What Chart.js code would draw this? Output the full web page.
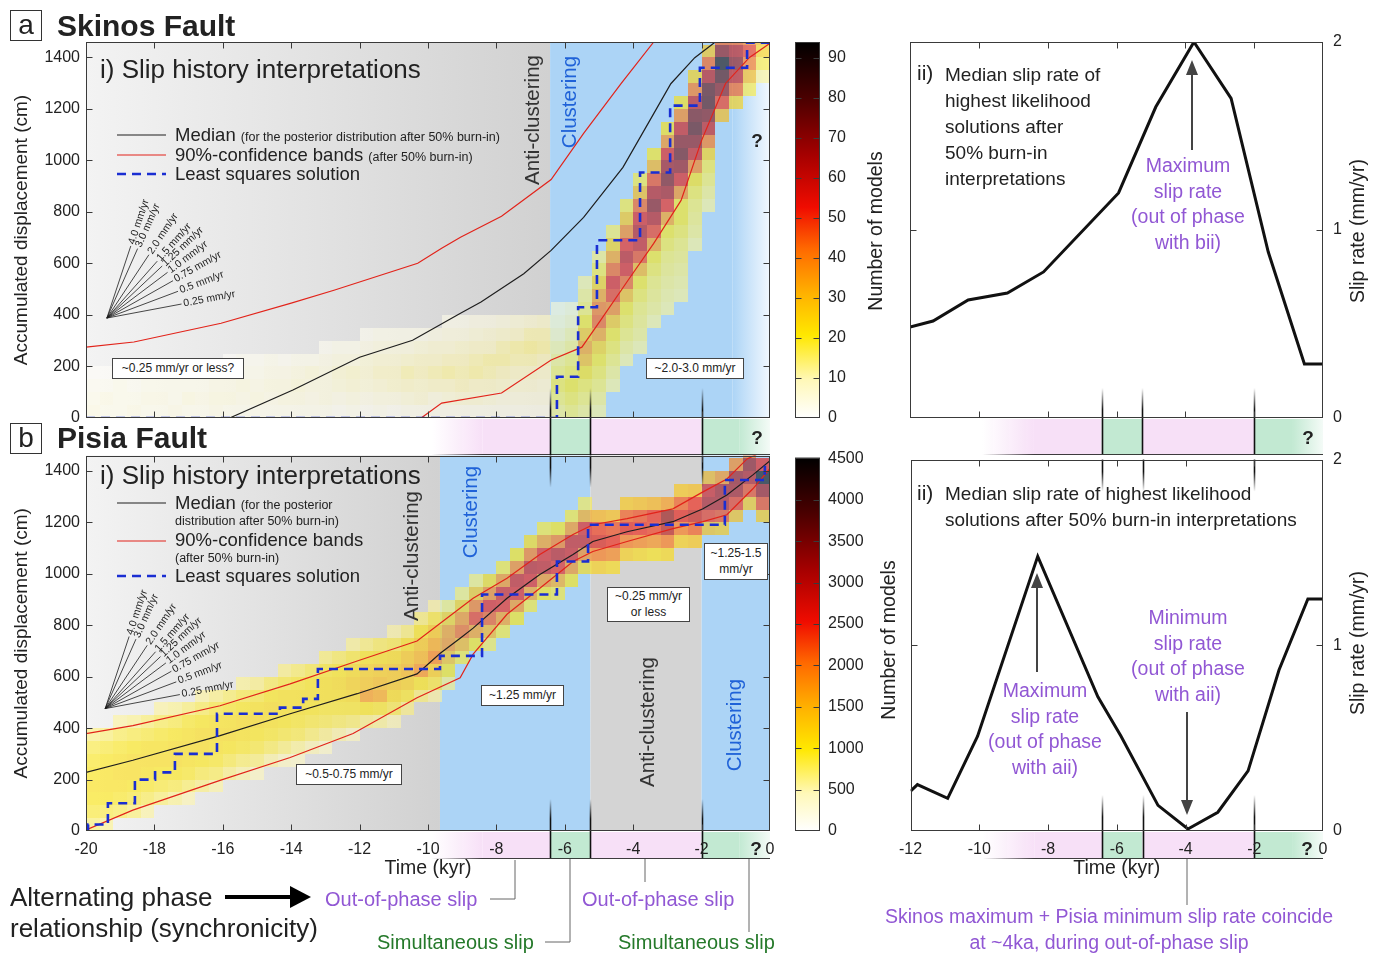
<!DOCTYPE html>
<html>
<head>
<meta charset="utf-8">
<title>Skinos and Pisia fault slip histories</title>
<script src="https://cdn.jsdelivr.net/npm/chart.js@4.4.1/dist/chart.umd.min.js"></script>
<style>
  body { margin: 0; background: #fff; }
  #fig { position: relative; width: 1381px; height: 954px; overflow: hidden; background: #fff;
         font-family: "Liberation Sans", Arial, Helvetica, sans-serif; color: #222; }
  #fig canvas { position: absolute; }
  .t { position: absolute; white-space: nowrap; line-height: 1; }
  .c { transform: translate(-50%, -50%); text-align: center; }
  .l { transform: translateY(-50%); }
  .r90 { transform: translate(-50%, -50%) rotate(-90deg); }
  .abox { position: absolute; width: 32px; height: 31px; box-sizing: border-box; border: 1px solid #333;
          font-size: 28px; line-height: 27px; text-align: center; }
  .box { position: absolute; box-sizing: border-box; background: #fff; border: 1px solid #444; font-size: 12px;
         line-height: 1.3; display: flex; align-items: center; justify-content: center; text-align: center; }
  .purple { color: #9157d4; }
  .green { color: #25792a; }
  .blue { color: #1f62d8; }
  small { font-size: 12.5px; }
</style>
</head>
<body>
<div id="fig">
  <canvas id="histA" width="790" height="460" style="left:0;top:0"></canvas>
  <canvas id="barA" width="100" height="460" style="left:780px;top:0"></canvas>
  <canvas id="rateA" width="490" height="460" style="left:890px;top:0"></canvas>
  <canvas id="histB" width="790" height="440" style="left:0;top:440px"></canvas>
  <canvas id="barB" width="100" height="440" style="left:780px;top:440px"></canvas>
  <canvas id="rateB" width="490" height="440" style="left:890px;top:440px"></canvas>

  <svg width="1381" height="954" style="position:absolute;left:0;top:0">
    <line x1="117" y1="135" x2="166" y2="135" stroke="#1e1e1e" stroke-width="1.2"/>
    <line x1="117" y1="155" x2="166" y2="155" stroke="#e2231a" stroke-width="1.2"/>
    <line x1="117" y1="174" x2="166" y2="174" stroke="#1a2ed2" stroke-width="2.6" stroke-dasharray="9 6"/>
    <line x1="117" y1="503" x2="166" y2="503" stroke="#1e1e1e" stroke-width="1.2"/>
    <line x1="117" y1="541" x2="166" y2="541" stroke="#e2231a" stroke-width="1.2"/>
    <line x1="117" y1="576" x2="166" y2="576" stroke="#1a2ed2" stroke-width="2.6" stroke-dasharray="9 6"/>
    <g stroke="#444" stroke-width="2" fill="#444">
      <line x1="1192" y1="150" x2="1192" y2="72"/>
      <polygon points="1186,75 1192,60 1198,75" stroke="none"/>
      <line x1="1037" y1="672" x2="1037" y2="585"/>
      <polygon points="1031,588 1037,573 1043,588" stroke="none"/>
      <line x1="1187" y1="712" x2="1187" y2="800"/>
      <polygon points="1181,800 1187,815 1193,800" stroke="none"/>
    </g>
    <g stroke="#666" stroke-width="1" fill="none">
      <polyline points="490,899 515,899 515,860"/>
      <polyline points="545,942 570,942 570,859"/>
      <polyline points="645,859 645,882"/>
      <polyline points="749,859 749,932"/>
      <polyline points="1187,859 1187,905"/>
    </g>
    <line x1="225" y1="897" x2="294" y2="897" stroke="#000" stroke-width="4"/>
    <polygon points="290,886 311,897 290,908" fill="#000"/>
  </svg>

  <div class="abox" style="left:10px;top:10px">a</div>
  <div class="t l" style="left:57px;top:26px;font-size:30px;font-weight:bold">Skinos Fault</div>
  <div class="t l" style="left:100px;top:69px;font-size:26px">i) Slip history interpretations</div>
  <div class="t l" style="left:175px;top:135px;font-size:18.5px">Median <small>(for the posterior distribution after 50% burn-in)</small></div>
  <div class="t l" style="left:175px;top:155px;font-size:18.5px">90%-confidence bands <small>(after 50% burn-in)</small></div>
  <div class="t l" style="left:175px;top:174px;font-size:18.5px">Least squares solution</div>
  <div class="box" style="left:112px;top:358px;width:132px;height:21px">~0.25 mm/yr or less?</div>
  <div class="box" style="left:646px;top:358px;width:98px;height:21px">~2.0-3.0 mm/yr</div>
  <div class="t c" style="left:757px;top:140px;font-size:19px;font-weight:bold">?</div>
  <div class="t r90" style="left:532px;top:120px;font-size:20.5px;color:#333">Anti-clustering</div>
  <div class="t r90 blue" style="left:569px;top:102px;font-size:20.5px">Clustering</div>
  <div class="t c" style="left:757px;top:437px;font-size:19px;font-weight:bold">?</div>
  <div class="t c" style="left:1308px;top:437px;font-size:19px;font-weight:bold">?</div>

  <div class="t r90" style="left:876px;top:231px;font-size:19.5px">Number of models</div>
  <div class="t r90" style="left:1358px;top:231px;font-size:19.5px">Slip rate (mm/yr)</div>
  <div class="t l" style="left:917px;top:72px;font-size:21px">ii)</div>
  <div class="t" style="left:945px;top:62px;font-size:19px;line-height:26px">Median slip rate of<br>highest likelihood<br>solutions after<br>50% burn-in<br>interpretations</div>
  <div class="t c purple" style="left:1188px;top:204px;font-size:19.5px;line-height:25.5px">Maximum<br>slip rate<br>(out of phase<br>with bii)</div>

  <div class="abox" style="left:10px;top:423px">b</div>
  <div class="t l" style="left:57px;top:438px;font-size:30px;font-weight:bold">Pisia Fault</div>
  <div class="t l" style="left:100px;top:475px;font-size:26px">i) Slip history interpretations</div>
  <div class="t l" style="left:175px;top:503px;font-size:18.5px">Median <small>(for the posterior</small></div>
  <div class="t l" style="left:175px;top:520px"><small>distribution after 50% burn-in)</small></div>
  <div class="t l" style="left:175px;top:540px;font-size:18.5px">90%-confidence bands</div>
  <div class="t l" style="left:175px;top:557px"><small>(after 50% burn-in)</small></div>
  <div class="t l" style="left:175px;top:576px;font-size:18.5px">Least squares solution</div>
  <div class="t r90" style="left:411px;top:556px;font-size:20.5px;color:#333">Anti-clustering</div>
  <div class="t r90 blue" style="left:470px;top:512px;font-size:20.5px">Clustering</div>
  <div class="t r90" style="left:647px;top:722px;font-size:20.5px;color:#333">Anti-clustering</div>
  <div class="t r90 blue" style="left:734px;top:725px;font-size:20.5px">Clustering</div>
  <div class="box" style="left:704px;top:543px;width:64px;height:37px">~1.25-1.5<br>mm/yr</div>
  <div class="box" style="left:607px;top:587px;width:83px;height:35px">~0.25 mm/yr<br>or less</div>
  <div class="box" style="left:481px;top:685px;width:83px;height:21px">~1.25 mm/yr</div>
  <div class="box" style="left:296px;top:764px;width:106px;height:21px">~0.5-0.75 mm/yr</div>
  <div class="t c" style="left:756px;top:848px;font-size:19px;font-weight:bold">?</div>
  <div class="t c" style="left:1307px;top:848px;font-size:19px;font-weight:bold">?</div>

  <div class="t r90" style="left:889px;top:640px;font-size:19.5px">Number of models</div>
  <div class="t r90" style="left:1358px;top:643px;font-size:19.5px">Slip rate (mm/yr)</div>
  <div class="t l" style="left:917px;top:492px;font-size:21px">ii)</div>
  <div class="t" style="left:945px;top:481px;font-size:19px;line-height:26px">Median slip rate of highest likelihood<br>solutions after 50% burn-in interpretations</div>
  <div class="t c purple" style="left:1045px;top:729px;font-size:19.5px;line-height:25.5px">Maximum<br>slip rate<br>(out of phase<br>with aii)</div>
  <div class="t c purple" style="left:1188px;top:656px;font-size:19.5px;line-height:25.5px">Minimum<br>slip rate<br>(out of phase<br>with aii)</div>

  <div class="t l" style="left:10px;top:897px;font-size:26px">Alternating phase</div>
  <div class="t l" style="left:10px;top:928px;font-size:26px">relationship (synchronicity)</div>
  <div class="t l purple" style="left:325px;top:899px;font-size:20px">Out-of-phase slip</div>
  <div class="t l green" style="left:377px;top:942px;font-size:20px">Simultaneous slip</div>
  <div class="t l purple" style="left:582px;top:899px;font-size:20px">Out-of-phase slip</div>
  <div class="t l green" style="left:618px;top:942px;font-size:20px">Simultaneous slip</div>
  <div class="t c purple" style="left:1109px;top:929px;font-size:19.5px;line-height:26px">Skinos maximum + Pisia minimum slip rate coincide<br>at ~4ka, during out-of-phase slip</div>
</div>

<script>
// ---- Skinos (a-i) slip history, time in kyr, displacement in cm ----
const aMedianT = [-20, -15.8, -13.95, -12.0, -10.45, -9.05, -8.45, -7.2, -6.4, -5.45, -4.3, -3.4, -2.9, -2.2, -1.6];
const aMedianV = [0, 0, 109, 236, 302, 407, 450, 560, 651, 779, 973, 1182, 1298, 1399, 1460];
const aUpperT = [-20, -18.6, -16.05, -14.0, -12.75, -10.3, -9.6, -9.05, -7.85, -6.4, -5.45, -4.35, -3.4];
const aUpperV = [275, 295, 368, 446, 496, 601, 659, 702, 783, 926, 1105, 1299, 1460];
const aLowerT = [-10.2, -9.6, -7.85, -6.4, -5.5, -4.95, -4.15, -3.4, -2.6, -2.0, -1.3, -0.6, 0];
const aLowerV = [0, 58, 97, 225, 275, 380, 535, 678, 845, 1078, 1299, 1400, 1455];
const aLsqT = [-20, -6.23, -5.61, -5.06, -3.8, -2.92, -2.05, -0.67, 0];
const aLsqV = [0, 160, 430, 690, 953, 1213, 1360, 1457, 1457];

// ---- Pisia (b-i) slip history ----
const bMedianT = [-20, -18.63, -16.08, -14.03, -12.07, -10.32, -9.65, -9.06, -8.68, -7.69, -6.73, -5.76, -5.18, -4.18, -2.84, -1.96, -1.26, -0.5, 0];
const bMedianV = [228, 275, 371, 456, 534, 611, 690, 750, 789, 905, 998, 1075, 1126, 1164, 1203, 1253, 1307, 1385, 1440];
const bUpperT = [-20, -18.63, -16.08, -14.03, -12.07, -10.32, -9.44, -8.68, -7.69, -6.73, -5.76, -5.18, -4.18, -2.84, -1.96, -1.26, -0.67, -0.3];
const bUpperV = [379, 410, 487, 572, 661, 739, 828, 905, 983, 1075, 1153, 1191, 1215, 1253, 1319, 1369, 1447, 1470];
const bLowerT = [-20, -18.63, -16.08, -14.03, -12.19, -10.32, -9.06, -8.68, -7.69, -6.73, -5.76, -5.18, -4.18, -2.84, -1.96, -1.26, -0.5, 0];
const bLowerV = [4, 81, 197, 286, 379, 518, 596, 688, 843, 944, 1048, 1087, 1126, 1176, 1203, 1230, 1331, 1410];
const bLsqT = [-20, -19.94, -19.36, -18.57, -17.98, -17.4, -16.17, -14.33, -13.65, -13.22, -9.65, -8.42, -6.23, -5.32, -1.32, -0.15, 0];
const bLsqV = [0, 25, 108, 200, 228, 300, 456, 480, 514, 630, 681, 920, 1048, 1191, 1365, 1423, 1423];

// ---- median slip rates (a-ii, b-ii), mm/yr ----
const aRateT = [-12, -11.33, -10.31, -9.17, -8.12, -5.94, -4.86, -3.75, -2.67, -1.59, -0.54, 0];
const aRateV = [0.484, 0.516, 0.628, 0.665, 0.777, 1.197, 1.654, 2.0, 1.70, 0.883, 0.287, 0.287];
const bRateT = [-12, -11.8, -10.92, -10.05, -8.3, -6.55, -5.88, -4.8, -3.93, -3.06, -2.18, -1.28, -0.44, 0];
const bRateV = [0.215, 0.25, 0.176, 0.511, 1.479, 0.723, 0.511, 0.138, 0.011, 0.101, 0.324, 0.867, 1.25, 1.25];

// ---- tick values ----
const DISP_TICKS = [0, 200, 400, 600, 800, 1000, 1200, 1400];
const RATE_TICKS = [0, 1, 2];
const A_BAR_TICKS = [0, 10, 20, 30, 40, 50, 60, 70, 80, 90];
const B_BAR_TICKS = [0, 500, 1000, 1500, 2000, 2500, 3000, 3500, 4000, 4500];

// ---- 2D histograms: column left edge (kyr), lowest bin (cm), counts per 50 cm bin ----
const HEAT_DT = 0.4;
const HEAT_DV = 50;
const aCellT0 = [-20, -19.6, -19.2, -18.8, -18.4, -18, -17.6, -17.2, -16.8, -16.4, -16, -15.6, -15.2, -14.8, -14.4, -14, -13.6,
  -13.2, -12.8, -12.4, -12, -11.6, -11.2, -10.8, -10.4, -10, -9.6, -9.2, -8.8, -8.4, -8, -7.6, -7.2, -6.8, -6.4, -6, -5.6,
  -5.2, -4.8, -4.4, -4, -3.6, -3.2, -2.8, -2.4, -2, -1.6, -1.2, -0.8, -0.4];
const aCellV0 = [0, 0, 0, 0, 0, 0, 0, 0, 0, 0, 0, 0, 0, 0, 0, 0, 0, 0, 0, 0, 0, 0, 0, 0, 0, 0, 0, 0, 0, 0, 0, 0, 0, 0, 0, 0,
  0, 0, 100, 200, 250, 350, 400, 450, 650, 800, 1150, 1200, 1250, 1300];
const aCellN = [
  [4, 3, 2, 1], [3, 4, 2, 1], [3, 3, 3, 2], [4, 3, 2, 1], [3, 4, 3, 1], [3, 4, 3, 2], [4, 3, 3, 1], [3, 5, 3, 2],
  [3, 4, 3, 2], [4, 5, 4, 3], [3, 5, 4, 3, 1], [3, 4, 5, 3, 2], [3, 5, 4, 3, 2], [3, 4, 5, 4, 3], [3, 5, 5, 4, 2],
  [3, 5, 6, 5, 3], [3, 4, 5, 6, 3], [3, 5, 5, 5, 4, 2], [2, 4, 6, 7, 5, 3], [3, 5, 7, 8, 5, 3], [2, 4, 6, 7, 6, 4, 2],
  [3, 5, 7, 9, 7, 5, 3], [2, 5, 8, 9, 7, 5, 3], [3, 6, 9, 11, 8, 5, 3], [3, 7, 8, 10, 9, 6, 3],
  [3, 5, 9, 11, 9, 7, 4], [3, 6, 9, 12, 10, 7, 5, 3], [3, 7, 10, 11, 10, 8, 5, 3], [3, 7, 9, 12, 11, 9, 6, 4],
  [3, 6, 9, 11, 12, 9, 7, 4], [3, 5, 8, 10, 12, 11, 8, 5], [3, 5, 7, 9, 11, 12, 9, 6], [3, 5, 7, 9, 11, 13, 11, 7],
  [3, 5, 6, 8, 10, 12, 11, 8], [14, 16, 18, 16, 14, 12, 10, 8, 6], [16, 18, 20, 18, 16, 14, 12, 10, 8],
  [14, 16, 18, 22, 30, 35, 28, 20, 16, 14, 12],
  [12, 14, 16, 18, 20, 25, 35, 45, 42, 35, 25, 18, 14],
  [12, 14, 16, 18, 20, 28, 40, 50, 55, 45, 35, 25, 16],
  [12, 14, 16, 18, 20, 30, 45, 55, 60, 52, 40, 28, 18],
  [12, 14, 15, 16, 18, 20, 32, 48, 58, 62, 55, 45, 30, 18],
  [12, 14, 15, 16, 18, 20, 35, 50, 62, 70, 62, 48, 32, 20],
  [12, 13, 14, 15, 16, 18, 20, 35, 52, 65, 72, 66, 55, 38, 22],
  [12, 13, 14, 15, 16, 18, 20, 20, 38, 55, 68, 75, 70, 58, 40, 22],
  [12, 14, 15, 16, 18, 22, 40, 58, 70, 78, 74, 60, 42, 25],
  [12, 14, 16, 18, 25, 42, 60, 72, 80, 78, 62, 45, 28],
  [30, 50, 70, 80, 92, 70, 45, 25], [25, 45, 60, 70, 62, 45, 25],
  [18, 30, 42, 50, 40], [12, 18, 25, 30]];

const bCellT0 = aCellT0;
const bCellV0 = [0, 0, 50, 50, 50, 100, 100, 100, 150, 150, 200, 200, 200, 250, 250, 250, 300, 300, 350, 350, 400, 400, 400,
  450, 500, 500, 550, 650, 700, 700, 750, 800, 850, 900, 900, 950, 1000, 1000, 1000, 1050, 1050, 1050, 1050, 1100, 1100,
  1150, 1150, 1200, 1250, 1200];
const bCellN = [
  [700, 900, 1000, 1050, 1000, 950, 850, 650], [600, 850, 1000, 1050, 1050, 1000, 900, 700],
  [800, 950, 1050, 1100, 1050, 950, 800, 550], [700, 900, 1000, 1100, 1100, 1000, 850, 600],
  [550, 800, 950, 1050, 1100, 1050, 900, 700], [700, 900, 1000, 1100, 1050, 950, 800, 550],
  [600, 850, 1000, 1100, 1100, 1000, 850, 600], [500, 750, 950, 1050, 1100, 1050, 950, 700],
  [650, 850, 1000, 1100, 1100, 1000, 800, 550], [550, 800, 950, 1050, 1100, 1050, 900, 650],
  [650, 850, 1000, 1100, 1050, 950, 750], [550, 750, 950, 1050, 1100, 1000, 850, 600],
  [450, 700, 900, 1000, 1100, 1050, 900, 650], [550, 800, 950, 1050, 1100, 1000, 800],
  [450, 700, 900, 1000, 1050, 1050, 900, 650], [400, 600, 850, 950, 1050, 1050, 950, 750],
  [500, 750, 900, 1000, 1050, 1000, 850], [400, 650, 850, 950, 1050, 1050, 950, 700],
  [550, 800, 950, 1050, 1100, 1000, 800], [450, 750, 950, 1100, 1200, 1100, 900, 600],
  [650, 1000, 1700, 1300, 1200, 1000, 700], [600, 950, 1600, 1400, 1250, 1050, 800],
  [500, 850, 1100, 1300, 1300, 1100, 850, 550], [650, 950, 1200, 1450, 1300, 1050, 700],
  [700, 1000, 1800, 1500, 1300, 1000, 700], [550, 900, 1250, 1900, 1600, 1300, 900, 550],
  [650, 1000, 1400, 1800, 1700, 1200, 700], [900, 1500, 2100, 1800, 1200, 700], [1000, 1700, 2400, 2000, 1300, 700],
  [800, 1500, 2200, 2600, 1900, 1100], [900, 1700, 2500, 2700, 1800, 900], [1000, 1800, 2600, 2800, 1900, 1000],
  [900, 1700, 2600, 2900, 2000, 1100], [1000, 1800, 2800, 2600, 1700, 900], [900, 1600, 2500, 2900, 2000, 1000],
  [1000, 1800, 2700, 2800, 1800, 900], [1100, 1900, 2800, 2600, 1600, 800], [1200, 2000, 2700, 2400, 1500],
  [1100, 1900, 2500, 2300, 1400], [1200, 2000, 2600, 2200, 1300], [1100, 1900, 2500, 2300, 1400],
  [1000, 1800, 2400, 2500, 1500], [1100, 2000, 3000, 3300, 1700], [1200, 2000, 2600, 2200, 1300],
  [1300, 2200, 2900, 2500, 1400], [1400, 2400, 3000, 2700, 1500], [1300, 2300, 3000, 3100, 1800],
  [1400, 2400, 3100, 3200, 1900], [1300, 2300, 3000, 3300, 2000], [1300, 2300, 3200, 4500, 2600]];

// reference rate fan (mm/yr) and its origin in each panel
const FAN_RATES = [4.0, 3.0, 2.0, 1.5, 1.25, 1.0, 0.75, 0.5, 0.25];
const FAN_LABELS = ['4.0 mm/yr', '3.0 mm/yr', '2.0 mm/yr', '1.5 mm/yr', '1.25 mm/yr', '1.0 mm/yr', '0.75 mm/yr', '0.5 mm/yr', '0.25 mm/yr'];
const aFanOrigin = [-19.39, 388];
const bFanOrigin = [-19.44, 476];

// phase windows (kyr): edges of simultaneous-slip windows
const PHASE_EDGES = [-6.43, -5.25, -2.0];
const PINK_IN = [-9.9, -8.4];
const GREEN_OUT = -0.9;

// shaded background zones in i) panels
const aZones = [[-20, -6.43, 'grey'], [-6.43, -1.1, 'blue'], [-1.1, 0, 'blueFade']];
const bZones = [[-20, -9.65, 'grey'], [-9.65, -5.25, 'blue'], [-5.25, -2.0, 'flatGrey'], [-2.0, 0, 'blue']];

const A_MAX = 94;
const B_MAX = 4510;

// ---- styles ----
const FONT = '"Liberation Sans", Arial, Helvetica, sans-serif';
const INK = '#222';
const FRAME = '#3a3a3a';
const TICK = 6;
const BLUE = '#acd4f6';
const PINK = '#f7e0f7';
const GREEN = '#c2e9d2';
const HEAT_ALPHA = 0.58;
const ZONE_FILL = {
  grey: ['#f3f3f3', '#d1d1d1'],
  blue: [BLUE, BLUE],
  blueFade: [BLUE, '#f2f8fe'],
  flatGrey: ['#d4d4d4', '#d4d4d4'],
};
const HEAT_STOPS = [
  [0, [255, 255, 255]], [0.1, [255, 248, 185]], [0.22, [255, 232, 0]], [0.33, [255, 178, 0]],
  [0.45, [255, 105, 0]], [0.56, [240, 12, 0]], [0.7, [165, 0, 0]], [0.85, [75, 0, 0]], [1, [0, 0, 0]],
];
const NO_GRID = { display: false, drawTicks: false };
const NO_BORDER = { display: false };

Chart.defaults.font.family = FONT;
Chart.defaults.color = INK;
Chart.defaults.animation = false;
Chart.defaults.responsive = false;
Chart.defaults.events = [];
Chart.defaults.plugins.legend.display = false;
Chart.defaults.plugins.tooltip.enabled = false;


function heatRGB(f) {
  f = Math.max(0, Math.min(1, f));
  for (let i = 1; i < HEAT_STOPS.length; i++) {
    const [f1, c1] = HEAT_STOPS[i];
    if (f <= f1) {
      const [f0, c0] = HEAT_STOPS[i - 1];
      const k = (f - f0) / (f1 - f0);
      return c0.map((c, j) => Math.round(c + (c1[j] - c) * k));
    }
  }
  return HEAT_STOPS[HEAT_STOPS.length - 1][1];
}

function xy(ts, vs) {
  return ts.map((t, i) => ({ x: t, y: vs[i] }));
}

function fixedTicks(values) {
  return (scale) => {
    scale.ticks = values.map((v) => ({ value: v }));
  };
}

const plainLabel = (v) => String(v);


function fillZones(chart, zones) {
  const { ctx, chartArea: a, scales: { x } } = chart;
  zones.forEach(([from, to, kind]) => {
    const x0 = x.getPixelForValue(from), x1 = x.getPixelForValue(to);
    const [c0, c1] = ZONE_FILL[kind];
    const g = ctx.createLinearGradient(x0, 0, x1, 0);
    g.addColorStop(0, c0);
    g.addColorStop(1, c1);
    ctx.fillStyle = g;
    ctx.fillRect(x0, a.top, x1 - x0, a.bottom - a.top);
  });
}

function drawCells(chart, t0s, v0s, counts, max) {
  const { ctx, chartArea: a, scales: { x, y } } = chart;
  ctx.save();
  ctx.beginPath();
  ctx.rect(a.left, a.top, a.width, a.height);
  ctx.clip();
  t0s.forEach((t0, i) => {
    const px0 = Math.round(x.getPixelForValue(t0));
    const px1 = Math.round(x.getPixelForValue(t0 + HEAT_DT));
    counts[i].forEach((n, j) => {
      if (!n) return;
      const v = v0s[i] + j * HEAT_DV;
      const py0 = Math.round(y.getPixelForValue(v + HEAT_DV));
      const py1 = Math.round(y.getPixelForValue(v));
      const [r, g, b] = heatRGB(n / max);
      ctx.fillStyle = `rgba(${r},${g},${b},${HEAT_ALPHA})`;
      ctx.fillRect(px0, py0, px1 - px0, py1 - py0);
    });
  });
  ctx.restore();
}

// pink / green synchronicity strip under a panel
function drawStrip(chart, yTop, h) {
  const { ctx, scales: { x } } = chart;
  const px = (t) => x.getPixelForValue(t);
  const segs = [
    [PINK_IN[0], PINK_IN[1], 'rgba(247,224,247,0)', PINK],
    [PINK_IN[1], PHASE_EDGES[0], PINK, PINK],
    [PHASE_EDGES[0], PHASE_EDGES[1], GREEN, GREEN],
    [PHASE_EDGES[1], PHASE_EDGES[2], PINK, PINK],
    [PHASE_EDGES[2], GREEN_OUT, GREEN, GREEN],
    [GREEN_OUT, 0, GREEN, '#f4fbf7'],
  ];
  segs.forEach(([from, to, c0, c1]) => {
    const x0 = px(from), x1 = px(to);
    const g = ctx.createLinearGradient(x0, 0, x1, 0);
    g.addColorStop(0, c0);
    g.addColorStop(1, c1);
    ctx.fillStyle = g;
    ctx.fillRect(x0, yTop, x1 - x0, h);
  });
  // dark edge along the bottom of the strip, fading to the left
  const x0 = px(PINK_IN[0]), x1 = px(0);
  const g = ctx.createLinearGradient(x0, 0, px(PINK_IN[1]), 0);
  g.addColorStop(0, 'rgba(30,30,30,0)');
  g.addColorStop(1, 'rgba(30,30,30,0.85)');
  ctx.strokeStyle = g;
  ctx.lineWidth = 1.2;
  ctx.beginPath();
  ctx.moveTo(x0, yTop + h - 0.5);
  ctx.lineTo(x1, yTop + h - 0.5);
  ctx.stroke();
}

// window boundary lines, fading out at yFade and solid from ySolid to yEnd
function drawPhaseLines(chart, yFade, ySolid, yEnd) {
  const { ctx, scales: { x } } = chart;
  const g = ctx.createLinearGradient(0, yFade, 0, ySolid);
  g.addColorStop(0, 'rgba(17,17,17,0)');
  g.addColorStop(1, 'rgba(17,17,17,1)');
  ctx.strokeStyle = g;
  ctx.lineWidth = 1.6;
  PHASE_EDGES.forEach((t) => {
    const p = Math.round(x.getPixelForValue(t)) + 0.5;
    ctx.beginPath();
    ctx.moveTo(p, yFade);
    ctx.lineTo(p, yEnd);
    ctx.stroke();
  });
}

function drawFrame(chart, withX) {
  const { ctx, chartArea: a, scales: { x, y } } = chart;
  const L = Math.round(a.left) + 0.5, R = Math.round(a.right) - 0.5;
  const T = Math.round(a.top) + 0.5, B = Math.round(a.bottom) - 0.5;
  ctx.strokeStyle = FRAME;
  ctx.lineWidth = 1;
  ctx.strokeRect(L, T, R - L, B - T);
  ctx.beginPath();
  if (withX) {
    x.ticks.forEach((t) => {
      if (t.value <= x.min || t.value >= x.max) return;
      const p = Math.round(x.getPixelForValue(t.value)) + 0.5;
      ctx.moveTo(p, T); ctx.lineTo(p, T + TICK);
      ctx.moveTo(p, B); ctx.lineTo(p, B - TICK);
    });
  }
  y.ticks.forEach((t) => {
    if (t.value <= y.min || t.value >= y.max) return;
    const p = Math.round(y.getPixelForValue(t.value)) + 0.5;
    ctx.moveTo(L, p); ctx.lineTo(L + TICK, p);
    ctx.moveTo(R, p); ctx.lineTo(R - TICK, p);
  });
  ctx.stroke();
}

function drawFan(chart, origin) {
  const { ctx, scales: { x, y } } = chart;
  const [t0, v0] = origin;
  const ox = x.getPixelForValue(t0), oy = y.getPixelForValue(v0);
  ctx.save();
  ctx.strokeStyle = '#1a1a1a';
  ctx.fillStyle = INK;
  ctx.lineWidth = 0.8;
  ctx.font = `10.5px ${FONT}`;
  ctx.textBaseline = 'middle';
  FAN_RATES.forEach((rate, i) => {
    // 1 mm/yr = 100 cm per kyr
    const dx = x.getPixelForValue(t0 + 1) - ox;
    const dy = y.getPixelForValue(v0 + rate * 100) - oy;
    const len = Math.hypot(dx, dy);
    const ux = dx / len, uy = dy / len;
    ctx.beginPath();
    ctx.moveTo(ox, oy);
    ctx.lineTo(ox + ux * 76, oy + uy * 76);
    ctx.stroke();
    ctx.save();
    ctx.translate(ox + ux * 78, oy + uy * 78);
    ctx.rotate(Math.atan2(uy, ux));
    ctx.fillText(FAN_LABELS[i], 0, 0);
    ctx.restore();
  });
  ctx.restore();
}


function historyPlugin(p) {
  return {
    id: 'history',
    beforeDraw(chart) {
      const a = chart.chartArea;
      const ctx = chart.ctx;
      ctx.save();
      fillZones(chart, p.zones);
      drawCells(chart, p.cellT0, p.cellV0, p.cellN, p.max);
      if (p.stripBelow) {
        drawStrip(chart, a.bottom + 1, p.stripBelow);
      }
      if (p.linesBelow) drawPhaseLines(chart, a.bottom - 30, a.bottom - 8, a.bottom + p.linesBelow);
      if (p.linesAbove) {
        drawPhaseLines(chart, a.top + 32, a.top + 12, a.top);
        drawPhaseLines(chart, a.bottom - 32, a.bottom - 12, a.bottom + p.stripBelow);
      }
      ctx.restore();
    },
    afterDatasetsDraw(chart) {
      drawFrame(chart, true);
      drawFan(chart, p.fan);
    },
  };
}

function ratePlugin(p) {
  return {
    id: 'rate',
    beforeDraw(chart) {
      const a = chart.chartArea;
      chart.ctx.save();
      drawStrip(chart, a.bottom + 1, p.strip);
      if (p.linesAbove) {
        drawPhaseLines(chart, a.top + 32, a.top + 12, a.top);
        drawPhaseLines(chart, a.bottom - 36, a.bottom - 14, a.bottom + p.strip);
      } else {
        drawPhaseLines(chart, a.bottom - 30, a.bottom - 8, a.bottom + p.strip);
      }
      chart.ctx.restore();
    },
    afterDatasetsDraw(chart) {
      drawFrame(chart, true);
    },
  };
}

const colorbarFrame = {
  id: 'cbFrame',
  afterDatasetsDraw(chart) {
    drawFrame(chart, false);
  },
};


function renderHistoryChart(canvasId, d) {
  new Chart(document.getElementById(canvasId), {
    type: 'line',
    data: {
      datasets: [
        { data: xy(d.lsqT, d.lsqV), borderColor: '#1a2ed2', borderWidth: 2.6, borderDash: [9, 6], stepped: 'before', pointRadius: 0 },
        { data: xy(d.medT, d.medV), borderColor: '#1e1e1e', borderWidth: 1.2, pointRadius: 0 },
        { data: xy(d.upT, d.upV), borderColor: '#e2231a', borderWidth: 1.2, pointRadius: 0 },
        { data: xy(d.loT, d.loV), borderColor: '#e2231a', borderWidth: 1.2, pointRadius: 0 },
      ],
    },
    options: {
      layout: { padding: { left: 0, top: d.top, right: 20, bottom: 0 } },
      scales: {
        x: {
          type: 'linear', min: -20, max: 0,
          ticks: { display: d.showX, stepSize: 2, padding: 9, font: { size: 16 }, callback: plainLabel },
          grid: NO_GRID, border: NO_BORDER,
          title: { display: d.showX, text: 'Time (kyr)', font: { size: 19.5 }, padding: 0 },
          afterFit: (s) => { s.height = d.xHeight; },
        },
        y: {
          min: 0, max: 1460,
          ticks: { padding: 6, font: { size: 16 }, callback: plainLabel },
          afterBuildTicks: fixedTicks(DISP_TICKS),
          grid: NO_GRID, border: NO_BORDER,
          title: { display: true, text: 'Accumulated displacement (cm)', font: { size: 19 }, padding: { top: 10 } },
          afterFit: (s) => { s.width = 86; },
        },
      },
    },
    plugins: [historyPlugin(d)],
  });
}

function renderRateChart(canvasId, ts, vs, d) {
  new Chart(document.getElementById(canvasId), {
    type: 'line',
    data: { datasets: [{ data: xy(ts, vs), borderColor: '#111', borderWidth: 3, pointRadius: 0 }] },
    options: {
      layout: { padding: { left: 20, top: d.top, right: 0, bottom: 0 } },
      scales: {
        x: {
          type: 'linear', min: -12, max: 0,
          ticks: { display: d.showX, stepSize: 2, padding: 9, font: { size: 16 }, callback: plainLabel },
          grid: NO_GRID, border: NO_BORDER,
          title: { display: d.showX, text: 'Time (kyr)', font: { size: 19.5 }, padding: 0 },
          afterFit: (s) => { s.height = d.xHeight; },
        },
        y: {
          position: 'right', min: 0, max: 2,
          ticks: { padding: 10, font: { size: 16 }, callback: plainLabel },
          afterBuildTicks: fixedTicks(RATE_TICKS),
          grid: NO_GRID, border: NO_BORDER,
          afterFit: (s) => { s.width = 57; },
        },
      },
    },
    plugins: [ratePlugin(d)],
  });
}

function renderColorbar(canvasId, max, tickValues, top, bottom) {
  new Chart(document.getElementById(canvasId), {
    type: 'bar',
    data: {
      labels: ['n'],
      datasets: [{
        data: [[0, max]],
        barPercentage: 1, categoryPercentage: 1, borderWidth: 0,
        backgroundColor: (c) => {
          const { ctx, chartArea, scales } = c.chart;
          if (!chartArea) return '#fff';
          const g = ctx.createLinearGradient(0, scales.y.getPixelForValue(0), 0, scales.y.getPixelForValue(max));
          HEAT_STOPS.forEach(([f, rgb]) => g.addColorStop(f, `rgb(${rgb.join(',')})`));
          return g;
        },
      }],
    },
    options: {
      layout: { padding: { left: 15, top, right: 0, bottom } },
      scales: {
        x: { display: false },
        y: {
          position: 'right', min: 0, max,
          ticks: { padding: 8, font: { size: 16 }, callback: plainLabel },
          afterBuildTicks: fixedTicks(tickValues),
          grid: NO_GRID, border: NO_BORDER,
          afterFit: (s) => { s.width = 60; },
        },
      },
    },
    plugins: [colorbarFrame],
  });
}


renderHistoryChart('histA', {
  lsqT: aLsqT, lsqV: aLsqV, medT: aMedianT, medV: aMedianV, upT: aUpperT, upV: aUpperV, loT: aLowerT, loV: aLowerV,
  cellT0: aCellT0, cellV0: aCellV0, cellN: aCellN, max: A_MAX, zones: aZones, fan: aFanOrigin,
  top: 42, xHeight: 42, showX: false, stripBelow: 36, linesBelow: 37,
});
renderHistoryChart('histB', {
  lsqT: bLsqT, lsqV: bLsqV, medT: bMedianT, medV: bMedianV, upT: bUpperT, upV: bUpperV, loT: bLowerT, loV: bLowerV,
  cellT0: bCellT0, cellV0: bCellV0, cellN: bCellN, max: B_MAX, zones: bZones, fan: bFanOrigin,
  top: 15, xHeight: 49, showX: true, stripBelow: 27, linesAbove: true,
});
renderColorbar('barA', A_MAX, A_BAR_TICKS, 42, 42);
renderColorbar('barB', B_MAX, B_BAR_TICKS, 15, 49);
renderRateChart('rateA', aRateT, aRateV, { top: 42, xHeight: 42, showX: false, strip: 36 });
renderRateChart('rateB', bRateT, bRateV, { top: 15, xHeight: 49, showX: true, strip: 27, linesAbove: true });
</script>
</body>
</html>
